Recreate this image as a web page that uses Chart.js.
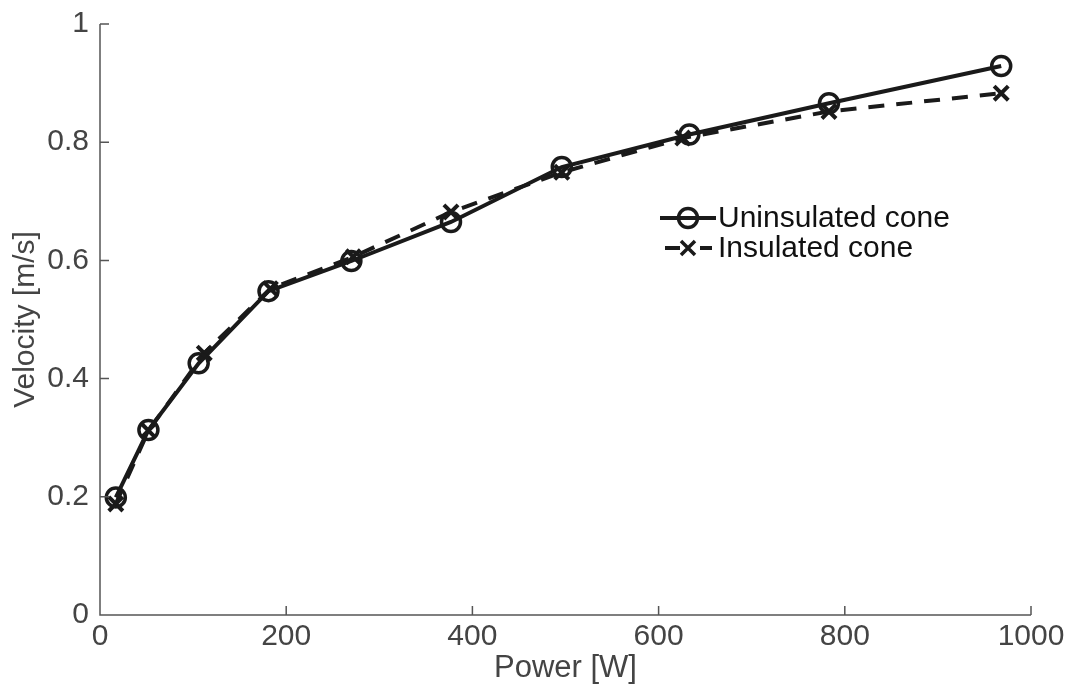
<!DOCTYPE html>
<html>
<head>
<meta charset="utf-8">
<script src="https://cdn.jsdelivr.net/npm/chart.js@4"></script>
<style>
  html, body { margin: 0; padding: 0; background: #fff; }
  #wrap { width: 1068px; height: 684px; }
</style>
</head>
<body>
<div id="wrap"><canvas id="grafico"></canvas></div>
<script>
// data
const powerUninsulated = [17, 52, 106, 181, 270, 377, 496, 633, 783, 968];
const velUninsulated = [0.199, 0.313, 0.426, 0.548, 0.599, 0.665, 0.758, 0.813, 0.866, 0.929];
const powerInsulated = [17, 52, 112, 183, 272, 377, 496, 626, 783, 968];
const velInsulated = [0.188, 0.312, 0.443, 0.552, 0.606, 0.682, 0.749, 0.807, 0.852, 0.883];
const xTicks = [0, 200, 400, 600, 800, 1000];
const yTicks = [0, 0.2, 0.4, 0.6, 0.8, 1];

const axisColor = '#555555';
const textColor = '#444444';
const fontFam = '"Liberation Sans", Arial, Helvetica, sans-serif';

function toPoints(xs, ys) {
    return xs.map((x, i) => ({ x: x, y: ys[i] }));
}

// ticks pointing inward + only left/bottom axis lines
const axisPlugin = {
    id: 'axisInward',
    afterDraw(chart) {
        const ctx = chart.ctx;
        const a = chart.chartArea;
        const xs = chart.scales.x;
        const ys = chart.scales.y;
        ctx.save();
        ctx.strokeStyle = axisColor;
        ctx.lineWidth = 1.5;
        ctx.beginPath();
        ctx.moveTo(a.left, a.top);
        ctx.lineTo(a.left, a.bottom);
        ctx.lineTo(a.right, a.bottom);
        xTicks.forEach(v => {
            const px = xs.getPixelForValue(v);
            ctx.moveTo(px, a.bottom);
            ctx.lineTo(px, a.bottom - 9);
        });
        yTicks.forEach(v => {
            const py = ys.getPixelForValue(v);
            ctx.moveTo(a.left, py);
            ctx.lineTo(a.left + 9, py);
        });
        ctx.stroke();
        ctx.restore();
    }
};

// legend sits inside the plot
const legendPlugin = {
    id: 'legendInside',
    afterDatasetsDraw(chart) {
        const ctx = chart.ctx;
        const items = chart.data.datasets;
        const x0 = 660, y0 = 218, rowH = 30;
        ctx.save();
        items.forEach((ds, i) => {
            const y = y0 + i * rowH;
            ctx.strokeStyle = '#1a1a1a';
            ctx.lineWidth = 4;
            ctx.beginPath();
            if (ds.borderDash) {
                ctx.moveTo(x0 + 5, y); ctx.lineTo(x0 + 20, y);
                ctx.moveTo(x0 + 40, y); ctx.lineTo(x0 + 52, y);
            } else {
                ctx.moveTo(x0, y); ctx.lineTo(x0 + 56, y);
            }
            ctx.stroke();
            ctx.lineWidth = 3.5;
            ctx.beginPath();
            if (ds.pointStyle === 'circle') {
                ctx.arc(x0 + 28, y, 9.5, 0, Math.PI * 2);
            } else {
                ctx.moveTo(x0 + 21, y - 7); ctx.lineTo(x0 + 35, y + 7);
                ctx.moveTo(x0 + 35, y - 7); ctx.lineTo(x0 + 21, y + 7);
            }
            ctx.stroke();
            ctx.fillStyle = '#111';
            ctx.font = '30px ' + fontFam;
            ctx.textBaseline = 'middle';
            ctx.textAlign = 'left';
            ctx.fillText(ds.label, x0 + 58, y + 1);
        });
        ctx.restore();
    }
};

const ctxGrafico = document.getElementById('grafico');
new Chart(ctxGrafico, {
    type: 'line',
    data: {
        datasets: [
            {
                label: 'Uninsulated cone',
                data: toPoints(powerUninsulated, velUninsulated),
                borderColor: '#1a1a1a',
                borderWidth: 4,
                pointStyle: 'circle',
                pointRadius: 9.5,
                pointBorderWidth: 3.5,
                pointBorderColor: '#1a1a1a',
                pointBackgroundColor: 'rgba(0,0,0,0)',
                fill: false,
                tension: 0
            },
            {
                label: 'Insulated cone',
                data: toPoints(powerInsulated, velInsulated),
                borderColor: '#1a1a1a',
                borderWidth: 4,
                borderDash: [16, 12],
                pointStyle: 'crossRot',
                pointRadius: 10,
                pointBorderWidth: 4,
                pointBorderColor: '#1a1a1a',
                fill: false,
                tension: 0
            }
        ]
    },
    options: {
        responsive: true,
        maintainAspectRatio: false,
        animation: false,
        layout: { padding: { top: 24, right: 37, left: 0, bottom: 0 } },
        plugins: {
            legend: { display: false },
            tooltip: { enabled: false }
        },
        scales: {
            x: {
                type: 'linear',
                min: 0,
                max: 1000,
                afterFit(scale) {
                    scale.height = 69;
                    scale.paddingLeft = 0;
                    scale.paddingRight = 0;
                },
                afterBuildTicks(scale) { scale.ticks = xTicks.map(v => ({ value: v })); },
                grid: { display: false, drawTicks: false },
                border: { display: false },
                ticks: {
                    color: textColor,
                    padding: 4,
                    font: { family: fontFam, size: 30 },
                    maxRotation: 0,
                    callback: (v) => String(v)
                },
                title: {
                    display: true,
                    text: 'Power [W]',
                    color: textColor,
                    padding: { top: 0, bottom: -3 },
                    font: { family: fontFam, size: 31 }
                }
            },
            y: {
                type: 'linear',
                min: 0,
                max: 1,
                afterFit(scale) {
                    scale.width = 100;
                    scale.paddingTop = 0;
                    scale.paddingBottom = 0;
                },
                afterBuildTicks(scale) { scale.ticks = yTicks.map(v => ({ value: v })); },
                grid: { display: false, drawTicks: false },
                border: { display: false },
                ticks: {
                    color: textColor,
                    padding: 11,
                    font: { family: fontFam, size: 30 },
                    callback: (v) => String(Math.round(v * 10) / 10)
                },
                title: {
                    display: true,
                    text: 'Velocity [m/s]',
                    color: textColor,
                    padding: { top: 8, bottom: 0 },
                    font: { family: fontFam, size: 30 }
                }
            }
        }
    },
    plugins: [axisPlugin, legendPlugin]
});
</script>
</body>
</html>
